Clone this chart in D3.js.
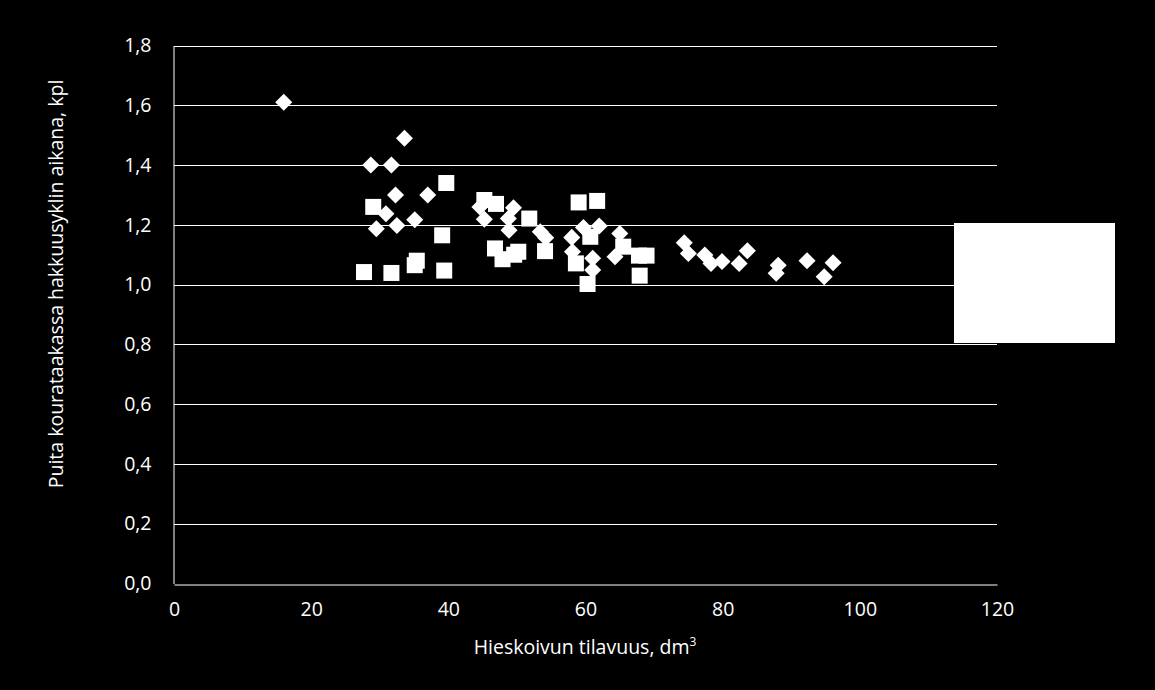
<!DOCTYPE html>
<html><head><meta charset="utf-8">
<script src="https://cdn.jsdelivr.net/npm/d3@7"></script>
<style>
html,body{margin:0;padding:0;background:#000;}
text{font-family:"Open Sans",sans-serif;fill:#fff;}
</style></head>
<body>
<svg id="chart" width="1155" height="690"></svg>
<script>
// Series 1 (diamonds): x = volume dm3, y = trees per grapple load
const diamondX = [16.0,33.6,28.7,31.7,32.3,37.0,30.9,29.5,32.5,35.1,44.6,45.25,49.5,48.75,48.85,53.4,54.2,59.7,62.0,58.0,58.1,61.05,61.05,65.0,64.3,74.4,75.0,77.4,78.3,79.9,82.4,83.6,88.1,87.8,92.3,96.1,94.8];
const diamondY = [1.61,1.49,1.40,1.40,1.30,1.30,1.237,1.187,1.198,1.217,1.26,1.219,1.257,1.221,1.182,1.177,1.157,1.191,1.196,1.158,1.11,1.088,1.049,1.171,1.093,1.14,1.104,1.099,1.071,1.077,1.071,1.113,1.065,1.038,1.080,1.073,1.026];
// Series 2 (squares)
const squareX = [39.7,29.05,39.1,35.1,35.4,27.7,31.7,39.4,45.25,46.95,59.0,61.7,51.8,46.8,47.9,49.6,50.2,54.1,60.7,58.6,60.3,67.9,65.5,67.8,68.9];
const squareY = [1.34,1.26,1.165,1.065,1.08,1.042,1.039,1.047,1.283,1.27,1.275,1.28,1.221,1.121,1.085,1.10,1.11,1.112,1.16,1.071,1.002,1.03,1.127,1.097,1.097];
const xTicks = [0,20,40,60,80,100,120];
const yTicks = [0,0.2,0.4,0.6,0.8,1.0,1.2,1.4,1.6,1.8];
const xTitle = "Hieskoivun tilavuus, dm";
const xTitleSup = "3";
const yTitle = "Puita kourataakassa hakkuusyklin aikana, kpl";

const svg = d3.select("#chart");
svg.append("rect").attr("width",1155).attr("height",690).attr("fill","#000");

const x = d3.scaleLinear().domain([0,120]).range([174,997]);
const y = d3.scaleLinear().domain([0,1.8]).range([583.5,45.5]);

// gridlines
svg.append("g").selectAll("line").data(yTicks.filter(d=>d>0)).join("line")
  .attr("x1",x(0)).attr("x2",x(120))
  .attr("y1",d=>Math.round(y(d))+0.5).attr("y2",d=>Math.round(y(d))+0.5)
  .attr("stroke","#fff").attr("stroke-width",1);

// axes
const xAxis = d3.axisBottom(x).tickValues(xTicks).tickSize(0).tickPadding(18).tickFormat(d3.format("d"));
const gx = svg.append("g").attr("transform",`translate(0,${Math.round(y(0))+0.5})`).call(xAxis);
gx.select(".domain").attr("stroke","#fff");
gx.selectAll("text").attr("font-size","19.5px").attr("fill","#fff").style("font-family","Open Sans");

const fmtY = d => d3.format(".1f")(d).replace(".",",");
const yAxis = d3.axisLeft(y).tickValues(yTicks).tickSize(0).tickPadding(22).tickFormat(fmtY);
const gy = svg.append("g").attr("transform",`translate(${x(0)-0.5},0)`).call(yAxis);
gy.select(".domain").attr("stroke","#fff");
gy.selectAll("text").attr("font-size","19.5px").attr("fill","#fff").style("font-family","Open Sans");

// markers
const diamonds = diamondX.map((d,i)=>({x:d,y:diamondY[i]}));
const squares = squareX.map((d,i)=>({x:d,y:squareY[i]}));
const dsym = d3.symbol().type(d3.symbolSquare).size(145);
svg.append("g").selectAll("path").data(diamonds).join("path")
  .attr("d",dsym)
  .attr("transform",d=>`translate(${x(d.x)},${y(d.y)}) rotate(45)`)
  .attr("fill","#fff");
const ssym = d3.symbol().type(d3.symbolSquare).size(256);
svg.append("g").selectAll("path").data(squares).join("path")
  .attr("d",ssym)
  .attr("transform",d=>`translate(${x(d.x)},${y(d.y)})`)
  .attr("fill","#fff");

// legend box (white)
svg.append("rect").attr("x",954).attr("y",223).attr("width",161).attr("height",120).attr("fill","#fff");

// titles
const xt = svg.append("text").attr("x",585).attr("y",654).attr("text-anchor","middle").attr("font-size","19.5px");
xt.append("tspan").text(xTitle);
xt.append("tspan").attr("dy",-8).attr("font-size","12px").text(xTitleSup);

svg.append("text").attr("transform","translate(63,284) rotate(-90)")
  .attr("text-anchor","middle").attr("font-size","19.5px").text(yTitle);
</script>
</body></html>
